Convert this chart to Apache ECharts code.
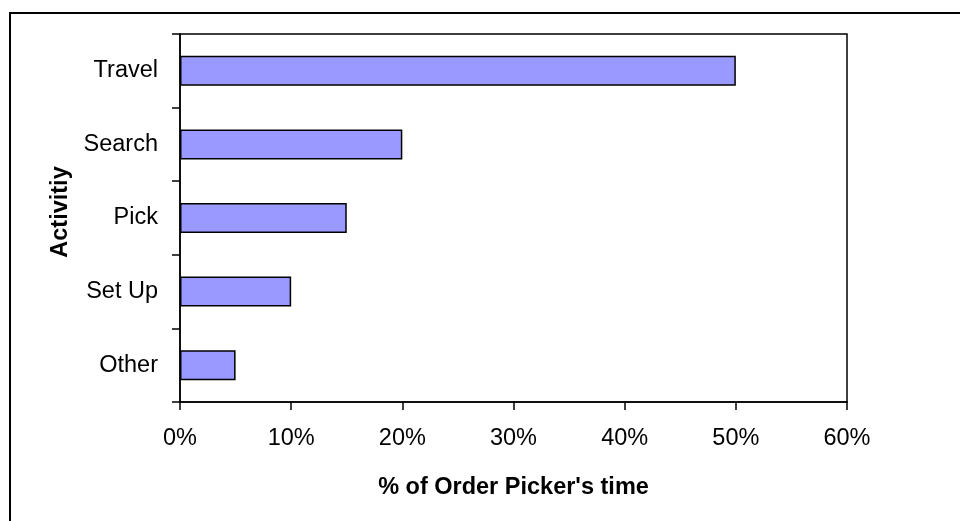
<!DOCTYPE html>
<html>
<head>
<meta charset="utf-8">
<script src="https://cdn.jsdelivr.net/npm/echarts@6/dist/echarts.min.js"></script>
<style>
  html, body { margin: 0; padding: 0; background: #fff; }
  #chart { width: 960px; height: 521px; }
</style>
</head>
<body>
<div id="chart"></div>
<script>
// Share of an order picker's time spent on each activity (%)
const activities = ['Travel', 'Search', 'Pick', 'Set Up', 'Other'];
const shareOfTime = [50, 20, 15, 10, 5];
const xTicks = [0, 10, 20, 30, 40, 50, 60];

const FONT = '"Liberation Sans", Arial, sans-serif';
const SIZE = 23.5;

const chart = echarts.init(document.getElementById('chart'), null, { renderer: 'canvas' });

chart.setOption({
  animation: false,
  backgroundColor: '#ffffff',
  graphic: [{
    // outer chart frame
    type: 'rect',
    silent: true,
    z: -10,
    shape: { x: 10, y: 13, width: 1000, height: 1000 },
    style: { fill: 'none', stroke: '#000', lineWidth: 2 }
  }],
  grid: {
    left: 180, top: 34, right: 113, bottom: 119,
    show: true,
    borderColor: '#000',
    borderWidth: 1.5,
    backgroundColor: '#fff'
  },
  xAxis: {
    type: 'value',
    min: xTicks[0],
    max: xTicks[xTicks.length - 1],
    interval: 10,
    name: "% of Order Picker's time",
    nameLocation: 'middle',
    nameGap: 74,
    nameTextStyle: { fontFamily: FONT, fontSize: SIZE, fontWeight: 'bold', color: '#000' },
    axisLine: { show: true, lineStyle: { color: '#000', width: 1.5 } },
    axisTick: { show: true, length: 8, inside: false, lineStyle: { color: '#000', width: 1.5 } },
    axisLabel: {
      margin: 25,
      fontFamily: FONT, fontSize: SIZE, color: '#000',
      formatter: v => v + '%'
    },
    splitLine: { show: false }
  },
  yAxis: {
    type: 'category',
    data: activities,
    inverse: true,
    boundaryGap: true,
    name: 'Activitiy',
    nameLocation: 'middle',
    nameGap: 107,
    nameRotate: 90,
    nameTextStyle: {
      fontFamily: FONT, fontSize: SIZE, fontWeight: 'bold', color: '#000',
      padding: [0, 0, 0, 12]
    },
    axisLine: { show: true, lineStyle: { color: '#000', width: 1.5 } },
    axisTick: { show: true, length: 8, alignWithLabel: false, lineStyle: { color: '#000', width: 1.5 } },
    axisLabel: { margin: 22, fontFamily: FONT, fontSize: SIZE, color: '#000' },
    splitLine: { show: false }
  },
  series: [{
    type: 'bar',
    data: shareOfTime,
    barWidth: 30,
    itemStyle: { color: '#9999FF', borderColor: '#000', borderWidth: 1.5 }
  }]
});
</script>
</body>
</html>
